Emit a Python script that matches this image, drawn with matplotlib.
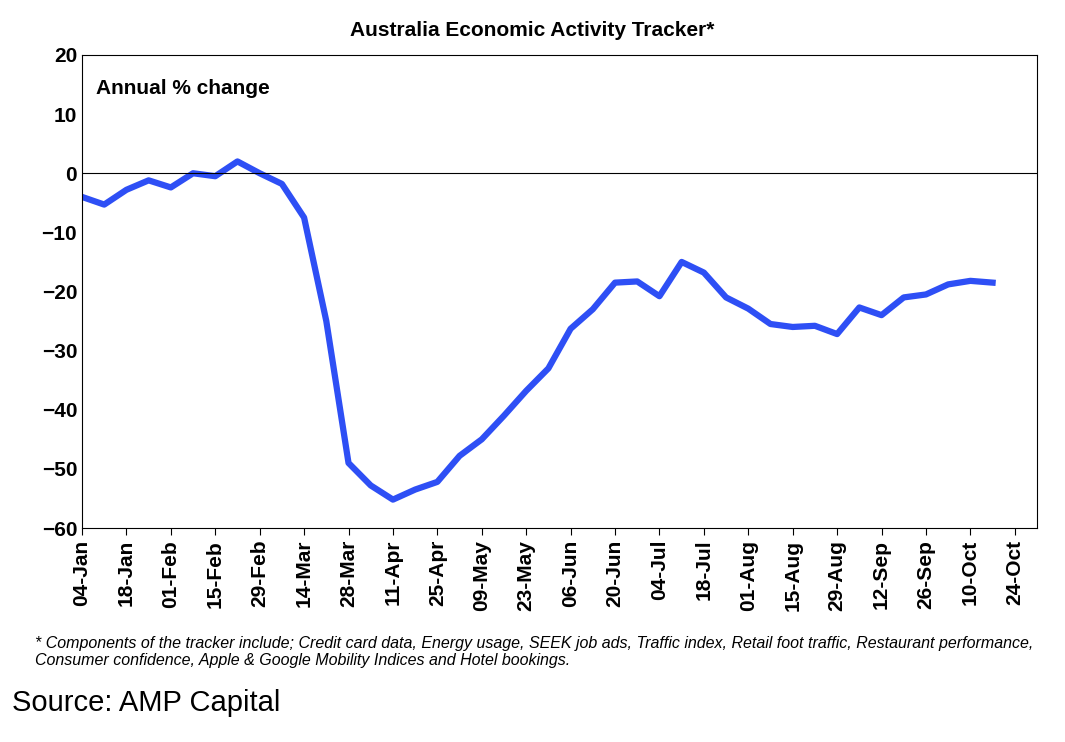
import matplotlib
matplotlib.use("Agg")
import matplotlib.pyplot as plt
import matplotlib.dates as mdates
import numpy as np

start = np.datetime64("2020-01-04")
values = [-4, -5.3, -2.8, -1.2, -2.4, 0, -0.5, 2, 0, -1.8, -7.5, -25, -49, -52.8,
          -55.2, -53.5, -52.2, -47.8, -45, -41, -36.8, -33, -26.3, -23, -18.5, -18.3,
          -20.8, -15, -16.8, -21, -22.9, -25.5, -26, -25.8, -27.2, -22.7, -24, -21,
          -20.5, -18.8, -18.2, -18.5]
dates = start + np.arange(len(values)) * np.timedelta64(7, "D")
ticks = start + np.arange(22) * np.timedelta64(14, "D")

plt.rcParams["font.family"] = ["Liberation Sans", "DejaVu Sans"]
fig = plt.figure(figsize=(10.65, 7.42), dpi=100)
ax = fig.add_axes([82 / 1065, 1 - 528 / 742, (1037 - 82) / 1065, (528 - 55) / 742])
ax.plot(dates.astype("datetime64[D]").astype(object), values, color="#2e4ff5", lw=4.5,
        solid_joinstyle="round")
ax.axhline(0, color="black", lw=0.8)
ax.set_ylim(-60, 20)
ax.set_yticks(range(-60, 21, 10))
ax.set_xlim(np.datetime64("2020-01-04").astype(object), np.datetime64("2020-10-31").astype(object))
ax.set_xticks([t.astype(object) for t in ticks])
ax.xaxis.set_major_formatter(mdates.DateFormatter("%d-%b"))
ax.tick_params(axis="x", rotation=90, labelsize=15, direction="out", length=5)
ax.tick_params(axis="y", labelsize=15, length=0)
for lab in ax.get_xticklabels() + ax.get_yticklabels():
    lab.set_fontweight("bold")
ax.text(0.015, 0.95, "Annual % change", transform=ax.transAxes, fontsize=15,
        fontweight="bold", va="top")
fig.text(0.5, 1 - 30 / 742, "Australia Economic Activity Tracker*", ha="center",
         va="center", fontsize=15, fontweight="bold")
fig.text(35 / 1065, 1 - 652 / 742,
         "* Components of the tracker include; Credit card data, Energy usage, SEEK job ads, Traffic index, Retail foot traffic, Restaurant performance,\nConsumer confidence, Apple & Google Mobility Indices and Hotel bookings.",
         fontsize=11.5, style="italic", va="center", linespacing=1.1)
fig.text(12 / 1065, 1 - 703 / 742, "Source: AMP Capital", fontsize=21, va="center")
fig.savefig("out.png", dpi=100)
